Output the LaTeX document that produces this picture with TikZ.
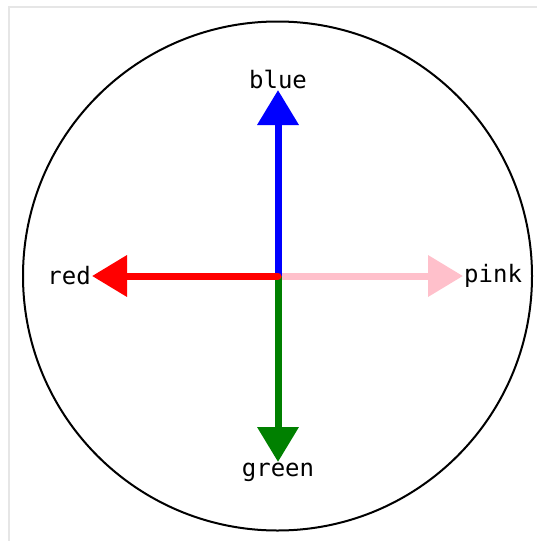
\documentclass[tikz,border=0pt]{standalone}
\usepackage{fontspec}
\newfontfamily\monof{DejaVu Sans Mono}
\usetikzlibrary{arrows.meta}
\definecolor{cpink}{RGB}{255,192,203}
\definecolor{cgreen}{RGB}{0,128,0}
\definecolor{cborder}{RGB}{230,230,230}
\begin{document}
\begin{tikzpicture}[x=1pt,y=-1pt,
  vec/.style={line width=7pt,-{Triangle[length=35pt,width=40pt]}},
  lbl/.style={font=\monof\fontsize{24}{26}\selectfont,inner sep=1pt,text=black}]
\useasboundingbox (0,0) rectangle (537,541);
\fill[white] (0,0) rectangle (537,541);
\draw[line width=2pt,color=cborder] (8.5,541) -- (8.5,7) -- (537,7);
\node[draw,circle,line width=2pt,minimum size=509pt,inner sep=0pt] (ring) at (277.5,276) {};
\coordinate (c) at (278,276);
\coordinate (tb) at (278,90);
\coordinate (tr) at (92,276);
\coordinate (tp) at (463,276);
\coordinate (tg) at (278,462);
\draw[vec,cpink] (c) -- (tp);
\draw[vec,blue] (c) -- (tb);
\draw[vec,cgreen] (c) -- (tg);
\draw[vec,red,line cap=round] (c) -- (tr);
\node[lbl,anchor=south] (lb) at (tb) {blue};
\node[lbl,anchor=east] (lr) at (tr) {red};
\node[lbl,anchor=west] (lp) at (tp) {pink};
\node[lbl,anchor=north] (lg) at (tg) {green};
\end{tikzpicture}
\end{document}
